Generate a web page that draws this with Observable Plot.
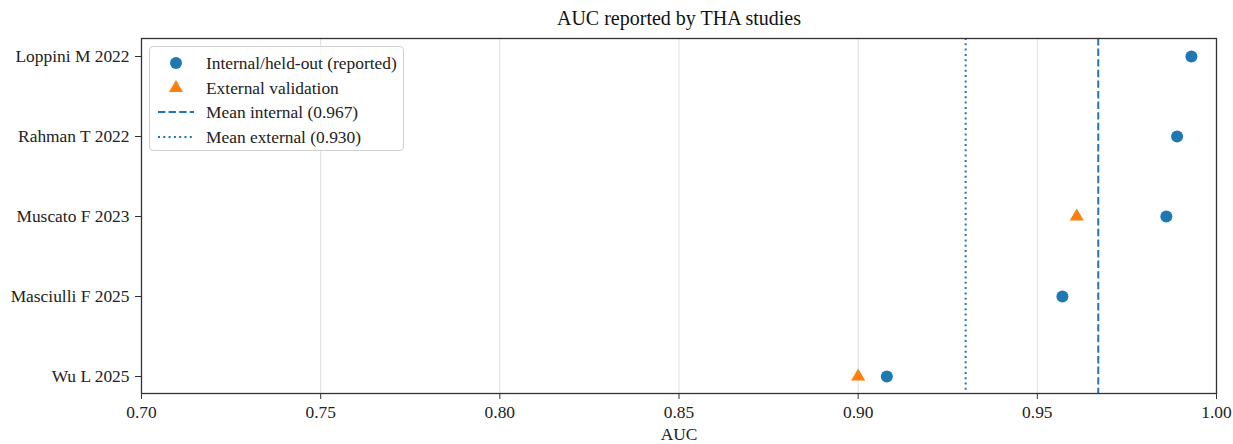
<!DOCTYPE html>
<html>
<head>
<meta charset="utf-8">
<script src="https://cdn.jsdelivr.net/npm/d3@7"></script>
<script src="https://cdn.jsdelivr.net/npm/@observablehq/plot@0.6"></script>
<style>
  html, body { margin: 0; padding: 0; background: #fff; }
  #wrap { position: relative; width: 1233px; height: 444px; font-family: "Liberation Serif", "Times New Roman", serif; }
  #legend { position: absolute; left: 149px; top: 46px; width: 255px; height: 105px;
    border: 1px solid #d0d0d0; border-radius: 4px; background: rgba(255,255,255,0.8); box-sizing: border-box; }
  #legend .row { position: absolute; left: 0; height: 24px; display: flex; align-items: center; font-size: 17.4px; color: #222; }
  #legend svg { position: absolute; left: 6px; }
  #legend span { position: absolute; left: 56px; white-space: nowrap; }
</style>
</head>
<body>
<div id="wrap"></div>
<script>
const studies = ["Loppini M 2022", "Rahman T 2022", "Muscato F 2023", "Masciulli F 2025", "Wu L 2025"];
const internalAUC = [0.993, 0.989, 0.986, 0.957, 0.908];
const externalStudies = ["Muscato F 2023", "Wu L 2025"];
const externalAUC = [0.961, 0.900];
const meanInternal = 0.967;
const meanExternal = 0.930;
const xTicks = [0.70, 0.75, 0.80, 0.85, 0.90, 0.95, 1.00];
const titleText = "AUC reported by THA studies";
const xLabel = "AUC";
const legendLabels = ["Internal/held-out (reported)", "External validation", "Mean internal (0.967)", "Mean external (0.930)"];

const blue = "#1f77b4", orange = "#ff7f0e";
const internal = studies.map((s, i) => ({study: s, auc: internalAUC[i]}));
const external = externalStudies.map((s, i) => ({study: s, auc: externalAUC[i]}));

const chart = Plot.plot({
  width: 1233, height: 444,
  marginLeft: 141, marginRight: 17, marginTop: 38, marginBottom: 51,
  style: {fontFamily: "Liberation Serif, Times New Roman, serif", fontSize: "17.4px", color: "#222", background: "#fff"},
  x: {domain: [0.70, 1.00]},
  y: {type: "point", domain: studies, padding: 0.2},
  marks: [
    Plot.gridX(xTicks, {stroke: "#b0b0b0", strokeOpacity: 0.4, strokeWidth: 1}),
    Plot.ruleX([meanInternal], {stroke: blue, strokeWidth: 2, strokeDasharray: "7.4,3.2"}),
    Plot.ruleX([meanExternal], {stroke: blue, strokeWidth: 2, strokeDasharray: "2,3.3"}),
    Plot.dot(internal, {x: "auc", y: "study", r: 6, fill: blue}),
    Plot.dot(external, {x: "auc", y: "study", r: 5.2, symbol: "triangle", fill: orange}),
    Plot.frame({stroke: "#333", strokeWidth: 1.3}),
    Plot.axisX(xTicks, {tickSize: 6, tickPadding: 6, tickFormat: d3.format(".2f"), label: null, stroke: "#333", fontSize: 17.4}),
    Plot.axisY({tickSize: 6, tickPadding: 6, label: null, stroke: "#333", fontSize: 17.4}),
    Plot.text([xLabel], {frameAnchor: "bottom", lineAnchor: "middle", dy: 41, fontSize: 17.4, fill: "#222"}),
    Plot.text([titleText], {frameAnchor: "top", lineAnchor: "middle", dy: -20, fontSize: 20, fill: "#111"})
  ]
});
const wrap = document.getElementById("wrap");
wrap.appendChild(chart);

// Legend
const legend = document.createElement("div");
legend.id = "legend";
const ns = "http://www.w3.org/2000/svg";
const rowTops = [4, 29, 53, 78];
legendLabels.forEach((lab, i) => {
  const row = document.createElement("div");
  row.className = "row";
  row.style.top = rowTops[i] + "px";
  row.style.width = "100%";
  const svg = document.createElementNS(ns, "svg");
  svg.setAttribute("width", 40); svg.setAttribute("height", 24);
  let el;
  if (i === 0) {
    el = document.createElementNS(ns, "circle");
    el.setAttribute("cx", 20); el.setAttribute("cy", 12); el.setAttribute("r", 6); el.setAttribute("fill", blue);
  } else if (i === 1) {
    const sym = d3.symbol(d3.symbolTriangle, Math.PI * 5.2 * 5.2)();
    el = document.createElementNS(ns, "path");
    el.setAttribute("d", sym); el.setAttribute("transform", "translate(20,12)"); el.setAttribute("fill", orange);
  } else {
    el = document.createElementNS(ns, "line");
    el.setAttribute("x1", 2); el.setAttribute("x2", 38); el.setAttribute("y1", 12); el.setAttribute("y2", 12);
    el.setAttribute("stroke", blue); el.setAttribute("stroke-width", 2);
    el.setAttribute("stroke-dasharray", i === 2 ? "7.4,3.2" : "2,3.3");
  }
  svg.appendChild(el);
  row.appendChild(svg);
  const sp = document.createElement("span");
  sp.textContent = lab;
  row.appendChild(sp);
  legend.appendChild(row);
});
wrap.appendChild(legend);
</script>
</body>
</html>
